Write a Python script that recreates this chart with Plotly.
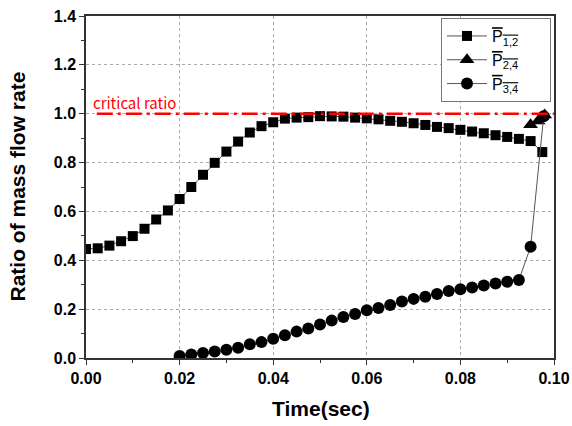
import plotly.graph_objects as go

# ---- data ----
t_p12 = [0.0, 0.0025, 0.005, 0.0075, 0.01, 0.0125, 0.015, 0.0175, 0.02, 0.0225,
         0.025, 0.0275, 0.03, 0.0325, 0.035, 0.0375, 0.04, 0.0425, 0.045, 0.0475,
         0.05, 0.0525, 0.055, 0.0575, 0.06, 0.0625, 0.065, 0.0675, 0.07, 0.0725,
         0.075, 0.0775, 0.08, 0.0825, 0.085, 0.0875, 0.09, 0.0925, 0.095, 0.0975]
p12 = [0.446, 0.449, 0.460, 0.478, 0.499, 0.529, 0.567, 0.604, 0.651, 0.700,
       0.750, 0.799, 0.845, 0.886, 0.923, 0.949, 0.965, 0.980, 0.984, 0.986,
       0.990, 0.989, 0.988, 0.984, 0.981, 0.977, 0.971, 0.967, 0.961, 0.954,
       0.946, 0.941, 0.934, 0.927, 0.920, 0.912, 0.905, 0.897, 0.888, 0.843]

t_p24 = [0.095, 0.0966, 0.098]
p24 = [0.955, 0.970, 0.995]

t_p34 = [0.02, 0.0225, 0.025, 0.0275, 0.03, 0.0325, 0.035, 0.0375, 0.04, 0.0425,
         0.045, 0.0475, 0.05, 0.0525, 0.055, 0.0575, 0.06, 0.0625, 0.065, 0.0675,
         0.07, 0.0725, 0.075, 0.0775, 0.08, 0.0825, 0.085, 0.0875, 0.09, 0.0925,
         0.095, 0.0978]
p34 = [0.008, 0.014, 0.020, 0.027, 0.034, 0.042, 0.056, 0.065, 0.079, 0.093,
       0.108, 0.121, 0.137, 0.153, 0.168, 0.180, 0.195, 0.205, 0.217, 0.231,
       0.242, 0.251, 0.262, 0.274, 0.281, 0.289, 0.297, 0.305, 0.312, 0.319,
       0.455, 0.99]

critical_x = [0.0023, 0.1]
critical_y = [1.0, 1.0]

x_ticks = [0.00, 0.02, 0.04, 0.06, 0.08, 0.10]
x_ticklabels = ["0.00", "0.02", "0.04", "0.06", "0.08", "0.10"]
y_ticks = [0.0, 0.2, 0.4, 0.6, 0.8, 1.0, 1.2, 1.4]
y_ticklabels = ["0.0", "0.2", "0.4", "0.6", "0.8", "1.0", "1.2", "1.4"]

pad = "&nbsp;" * 6
names = ['<span style="text-decoration:overline">P<sub>1,2</sub></span>' + pad,
         '<span style="text-decoration:overline">P<sub>2,4</sub></span>' + pad,
         '<span style="text-decoration:overline">P<sub>3,4</sub></span>' + pad]

FONT = "Arial, Liberation Sans, sans-serif"
line_style = dict(color="#555555", width=1)

fig = go.Figure()
fig.add_trace(go.Scatter(x=t_p12, y=p12, mode="lines+markers", name=names[0],
                         line=line_style,
                         marker=dict(symbol="square", size=10, color="black")))
fig.add_trace(go.Scatter(x=t_p24, y=p24, mode="lines+markers", name=names[1],
                         line=line_style,
                         marker=dict(symbol="triangle-up", size=13, color="black")))
fig.add_trace(go.Scatter(x=t_p34, y=p34, mode="lines+markers", name=names[2],
                         line=line_style,
                         marker=dict(symbol="circle", size=12, color="black")))
fig.add_trace(go.Scatter(x=critical_x, y=critical_y, mode="lines", showlegend=False,
                         line=dict(color="red", width=2.5, dash="16px,5px,3px,5px"),
                         cliponaxis=False))

fig.add_annotation(x=0.001, y=1.0, xref="x", yref="y", text="critical ratio",
                   showarrow=False, xanchor="left", yanchor="bottom", yshift=-1,
                   font=dict(family="Noto Sans CJK KR, Noto Sans, sans-serif", size=15, color="red"))

# axis titles
fig.add_annotation(x=0.502, y=-0.149, xref="paper", yref="paper", text="<b>Time(sec)</b>",
                   showarrow=False, xanchor="center", yanchor="middle",
                   font=dict(family=FONT, size=21, color="black"))
fig.add_annotation(x=-0.147, y=0.502, xref="paper", yref="paper", text="<b>Ratio of mass flow rate</b>",
                   showarrow=False, xanchor="center", yanchor="middle", textangle=-90,
                   font=dict(family=FONT, size=21, color="black"))

axis_common = dict(showline=True, linecolor="#333333", linewidth=1.5, mirror=True,
                   ticks="outside", ticklen=5, tickcolor="#333333", tickwidth=1.2,
                   showgrid=True, gridcolor="#aaaaaa", griddash="dot", gridwidth=1,
                   zeroline=False, automargin=False,
                   tickfont=dict(family=FONT, size=16, color="black", weight="bold"))

fig.update_xaxes(range=[0, 0.1], tickvals=x_ticks, ticktext=x_ticklabels,
                 minor=dict(ticks="outside", dtick=0.01, tick0=0, ticklen=3, tickcolor="#333333", showgrid=False),
                 **axis_common)
fig.update_yaxes(range=[0, 1.4], tickvals=y_ticks, ticktext=y_ticklabels,
                 minor=dict(ticks="outside", dtick=0.1, tick0=0, ticklen=3, tickcolor="#333333", showgrid=False),
                 **axis_common)

fig.update_layout(
    width=572, height=426,
    margin=dict(l=86, r=18, t=16, b=68),
    plot_bgcolor="white", paper_bgcolor="white",
    legend=dict(x=0.9936, y=0.994, xanchor="right", yanchor="top",
                bgcolor="white", bordercolor="#777777", borderwidth=1,
                font=dict(family=FONT, size=16, color="black"),
                tracegroupgap=0, itemwidth=40),
    font=dict(family=FONT),
)

fig.write_html("out.html", config={"displayModeBar": False},
               post_script="document.body.style.margin='0px';")
